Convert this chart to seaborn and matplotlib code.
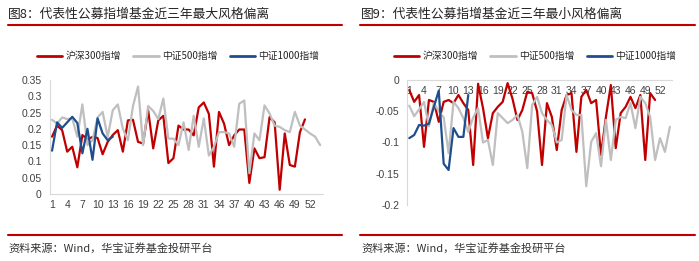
import numpy as np
import pandas as pd
import matplotlib
matplotlib.use("Agg")
import matplotlib.pyplot as plt
import seaborn as sns
from matplotlib.lines import Line2D

sns.set_theme(style="white")
plt.rcParams['font.family'] = ['Noto Sans CJK SC', 'DejaVu Sans']

# ---------------- data ----------------
series_names = ["沪深300指增", "中证500指增", "中证1000指增"]
colors = ["#C00000", "#BFBFBF", "#1F4E8C"]

max_hs300 = [0.176, 0.21, 0.196, 0.13, 0.145, 0.082, 0.181, 0.168, 0.175, 0.172,
             0.122, 0.16, 0.181, 0.196, 0.13, 0.226, 0.228, 0.16, 0.155, 0.257,
             0.14, 0.226, 0.24, 0.095, 0.11, 0.21, 0.198, 0.198, 0.18, 0.266,
             0.281, 0.246, 0.084, 0.252, 0.216, 0.15, 0.18, 0.198, 0.198, 0.034,
             0.14, 0.11, 0.113, 0.236, 0.22, 0.013, 0.186, 0.089, 0.084, 0.19,
             0.229]
max_zz500 = [0.228, 0.216, 0.235, 0.23, 0.232, 0.176, 0.275, 0.15, 0.165, 0.235,
             0.252, 0.175, 0.257, 0.275, 0.2, 0.165, 0.27, 0.33, 0.15, 0.27,
             0.255, 0.23, 0.293, 0.17, 0.17, 0.15, 0.22, 0.135, 0.24, 0.145,
             0.232, 0.118, 0.145, 0.19, 0.19, 0.186, 0.145, 0.277, 0.287, 0.064,
             0.186, 0.165, 0.272, 0.247, 0.21, 0.206, 0.196, 0.19, 0.252, 0.21,
             0.198, 0.186, 0.176, 0.15]
max_zz1000 = [0.133, 0.22, 0.203, 0.22, 0.237, 0.218, 0.125, 0.2, 0.105, 0.232,
              0.186, 0.165, 0.176]

min_hs300 = [-0.016, -0.035, -0.024, -0.107, -0.032, -0.035, -0.067, -0.035, -0.032, -0.037,
             -0.024, -0.037, -0.048, -0.136, -0.006, -0.045, -0.093, -0.053, -0.043, -0.035,
             -0.005, -0.03, -0.064, -0.048, -0.019, -0.021, -0.05, -0.136, -0.037, -0.059,
             -0.112, -0.048, -0.024, -0.021, -0.115, -0.027, -0.016, -0.037, -0.032, -0.12,
             -0.059, -0.008, -0.109, -0.053, -0.043, -0.027, -0.045, -0.024, -0.128, -0.021,
             -0.032]
min_zz500 = [-0.041, -0.058, -0.047, -0.035, -0.074, -0.037, -0.05, -0.06, -0.117, -0.035,
             -0.045, -0.061, -0.083, -0.06, -0.045, -0.1, -0.096, -0.136, -0.053, -0.061,
             -0.069, -0.064, -0.056, -0.083, -0.141, -0.04, -0.027, -0.053, -0.064, -0.072,
             -0.1, -0.096, -0.024, -0.048, -0.056, -0.056, -0.17, -0.099, -0.085, -0.138,
             -0.064, -0.128, -0.064, -0.059, -0.061, -0.037, -0.077, -0.027, -0.037, -0.059,
             -0.128, -0.093, -0.115, -0.075]
min_zz1000 = [-0.093, -0.088, -0.072, -0.073, -0.07, -0.043, -0.017, -0.134, -0.144, -0.077,
              -0.091, -0.091, -0.024]

left_yticks = [0, 0.05, 0.1, 0.15, 0.2, 0.25, 0.3, 0.35]
left_yticklabels = ["0", "0.05", "0.1", "0.15", "0.2", "0.25", "0.3", "0.35"]
right_yticks = [0, -0.05, -0.1, -0.15, -0.2]
right_yticklabels = ["0", "-0.05", "-0.1", "-0.15", "-0.2"]
xtick_labels = [str(i) for i in range(1, 54, 3)]

title_left = "图8：代表性公募指增基金近三年最大风格偏离"
title_right = "图9：代表性公募指增基金近三年最小风格偏离"
source_text = "资料来源：Wind，华宝证券基金投研平台"

# ---------------- figure ----------------
W, H = 699, 261
fig = plt.figure(figsize=(W / 100, H / 100), dpi=100)
fig.patch.set_facecolor("white")


def fx(px):
    return px / W


def fy(py):
    return 1 - py / H


num_font = ['Liberation Sans', 'Noto Sans CJK SC']
cjk_font = ['Noto Sans CJK SC', 'DejaVu Sans']
tick_color = "#404040"
axis_color = "#D9D9D9"


def draw_panel(ax, data_lists, ylim, yticks, yticklabels, xaxis_at_zero):
    for vals, name, col in zip(data_lists, series_names, colors):
        df = pd.DataFrame({"x": np.arange(1, len(vals) + 1), "y": vals})
        sns.lineplot(data=df, x="x", y="y", ax=ax, color=col, linewidth=1.6,
                     legend=False)
    ax.set_xlim(0.5, 54.5)
    ax.set_ylim(*ylim)
    ax.set_xlabel("")
    ax.set_ylabel("")
    ax.set_facecolor("white")
    ax.grid(False)
    for s in ["top", "right"]:
        ax.spines[s].set_visible(False)
    ax.spines["left"].set_color(axis_color)
    ax.spines["bottom"].set_color(axis_color)
    ax.spines["left"].set_linewidth(0.8)
    ax.spines["bottom"].set_linewidth(0.8)
    if xaxis_at_zero:
        ax.spines["bottom"].set_position(("data", 0))
    ax.set_yticks(yticks)
    ax.set_yticklabels(yticklabels, fontfamily=num_font, fontsize=7.5, color=tick_color)
    ax.set_xticks(list(range(1, 54, 3)))
    ax.set_xticklabels(xtick_labels, fontfamily=num_font, fontsize=7.5, color=tick_color)
    ax.set_xticks(np.arange(0.5, 55, 1.0), minor=True)
    ax.tick_params(axis="x", which="major", length=0, pad=4)
    ax.tick_params(axis="x", which="minor", length=2.5, color=axis_color, width=0.6,
                   direction="in" if xaxis_at_zero else "out")
    ax.tick_params(axis="y", which="major", length=2.5, color=axis_color, width=0.6,
                   pad=3, direction="out")


# left axes
axL = fig.add_axes([fx(49.5), fy(194), fx(322.7 - 49.5), (194 - 80) / H])
draw_panel(axL, [max_hs300, max_zz500, max_zz1000], (0, 0.35),
           left_yticks, left_yticklabels, False)

# right axes
axR = fig.add_axes([fx(406.8), fy(205), fx(672.3 - 406.8), (205 - 80) / H])
draw_panel(axR, [min_hs300, min_zz500, min_zz1000], (-0.2, 0),
           right_yticks, right_yticklabels, True)

# titles
fig.text(fx(8), fy(14), title_left, fontsize=9.2, color="#222222",
         family=cjk_font, va="center", ha="left")
fig.text(fx(361), fy(14), title_right, fontsize=9.2, color="#222222",
         family=cjk_font, va="center", ha="left")

# red separator lines
for (x0, x1, yy) in [(8, 342, 25), (8, 342, 235), (360, 695, 25), (360, 695, 235)]:
    fig.add_artist(Line2D([fx(x0), fx(x1)], [fy(yy), fy(yy)], color="#C00000",
                          linewidth=1.5, transform=fig.transFigure))

# source text
fig.text(fx(8), fy(248), source_text, fontsize=8, color="#333333",
         family=cjk_font, va="center", ha="left")
fig.text(fx(361), fy(248), source_text, fontsize=8, color="#333333",
         family=cjk_font, va="center", ha="left")

# legends
handles = [Line2D([0], [0], color=c, linewidth=2) for c in colors]
for cx in [178, 535]:
    fig.legend(handles, series_names, loc="center", bbox_to_anchor=(fx(cx), fy(56)),
               ncol=3, frameon=False, handlelength=2.6, handletextpad=0.3,
               columnspacing=1.3, prop={'family': cjk_font, 'size': 7})

fig.savefig("out.png", dpi=100, facecolor="white")
